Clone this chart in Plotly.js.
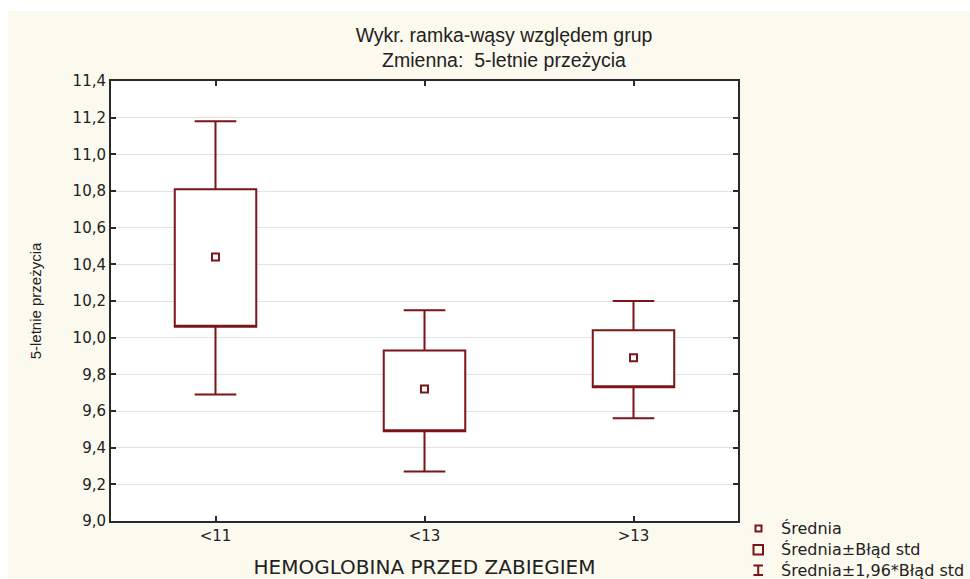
<!DOCTYPE html>
<html>
<head>
<meta charset="utf-8">
<script src="https://cdn.plot.ly/plotly-3.0.1.min.js"></script>
<style>
  html, body { margin: 0; padding: 0; background: #ffffff; }
  #chart { position: absolute; left: 8px; top: 11px; width: 962px; height: 568px; }
</style>
</head>
<body>
<div id="chart"></div>
<script>
// ---- data ----
const categories = ['<11', '<13', '>13'];
const means      = [10.44, 9.72, 9.89];
const seLow      = [10.06, 9.49, 9.73];   // Średnia - Błąd std
const seHigh     = [10.81, 9.93, 10.04];  // Średnia + Błąd std
const ciLow      = [9.69, 9.27, 9.56];    // Średnia - 1,96*Błąd std
const ciHigh     = [11.18, 10.15, 10.20]; // Średnia + 1,96*Błąd std
const yTickVals  = [9.0, 9.2, 9.4, 9.6, 9.8, 10.0, 10.2, 10.4, 10.6, 10.8, 11.0, 11.2, 11.4];
const yTickText  = ['9,0', '9,2', '9,4', '9,6', '9,8', '10,0', '10,2', '10,4', '10,6', '10,8', '11,0', '11,2', '11,4'];
const legendLabels = ['Średnia', 'Średnia±Błąd std', 'Średnia±1,96*Błąd std'];

// ---- style ----
const RED = '#7b1518';
const AX = '#2a2a2a';
const BG = '#fcf9ee';
// page-pixel -> paper coordinate helpers (plot area: x 111..738, y 81..521)
const PX0 = 111, PX1 = 738, PY0 = 81, PY1 = 521;
const px = v => (v - PX0) / (PX1 - PX0);
const py = v => (PY1 - v) / (PY1 - PY0);

const boxTrace = {
  type: 'box',
  x: categories,
  q1: seLow,
  median: seLow,
  q3: seHigh,
  lowerfence: ciLow,
  upperfence: ciHigh,
  fillcolor: '#ffffff',
  line: { color: RED, width: 2 },
  whiskerwidth: 0.51,
  width: 0.39,
  boxpoints: false,
  hoverinfo: 'skip',
  showlegend: false
};

const meanTrace = {
  type: 'scatter',
  mode: 'markers',
  x: categories,
  y: means,
  marker: { symbol: 'square-open', size: 7, color: RED, line: { width: 2, color: RED } },
  hoverinfo: 'skip',
  showlegend: false
};

// legend (drawn as shapes + annotations next to the plot)
const legendRows = [528.5, 549.5, 570];
const shapes = [
  { type: 'rect', xref: 'paper', yref: 'paper', x0: px(755.5), x1: px(761.5), y0: py(531.5), y1: py(525.5),
    line: { color: RED, width: 2 }, fillcolor: '#ffffff' },
  { type: 'rect', xref: 'paper', yref: 'paper', x0: px(753.5), x1: px(763), y0: py(554.5), y1: py(545),
    line: { color: RED, width: 2 }, fillcolor: BG },
  { type: 'line', xref: 'paper', yref: 'paper', x0: px(758.2), x1: px(758.2), y0: py(575), y1: py(565.5),
    line: { color: RED, width: 2 } },
  { type: 'line', xref: 'paper', yref: 'paper', x0: px(753.5), x1: px(763), y0: py(565.5), y1: py(565.5),
    line: { color: RED, width: 2 } },
  { type: 'line', xref: 'paper', yref: 'paper', x0: px(753.5), x1: px(763), y0: py(575), y1: py(575),
    line: { color: RED, width: 2 } }
];
const annotations = legendLabels.map((t, i) => ({
  xref: 'paper', yref: 'paper', x: px(779), y: py(legendRows[i]),
  xanchor: 'left', yanchor: 'middle', showarrow: false, text: t,
  font: { family: 'DejaVu Sans', size: 16, color: '#222222' }
}));

const layout = {
  width: 962, height: 568,
  margin: { l: PX0 - 8, r: 962 - (PX1 - 8), t: PY0 - 11, b: 568 - (PY1 - 11) },
  paper_bgcolor: BG,
  plot_bgcolor: '#ffffff',
  showlegend: false,
  title: {
    text: 'Wykr. ramka-wąsy względem grup<br>Zmienna:\u00a0 5-letnie przeżycia',
    font: { family: 'Liberation Sans, Arial', size: 19.5, color: '#222222' },
    xref: 'container', x: (504 - 8) / 962, xanchor: 'center',
    yref: 'container', y: 1 - (42 - 11) / 568, yanchor: 'middle'
  },
  xaxis: {
    type: 'category',
    range: [-0.5, 2.5],
    showline: true, linecolor: AX, linewidth: 2, mirror: 'ticks',
    ticks: 'inside', ticklen: 5, tickwidth: 2, tickcolor: AX,
    showgrid: false, zeroline: false,
    tickfont: { family: 'DejaVu Sans', size: 15, color: '#222222' },
    title: { text: 'HEMOGLOBINA PRZED ZABIEGIEM', standoff: 22,
             font: { family: 'DejaVu Sans', size: 20, color: '#222222' } }
  },
  yaxis: {
    range: [9.0, 11.4],
    tickvals: yTickVals, ticktext: yTickText,
    showline: true, linecolor: AX, linewidth: 2, mirror: 'ticks',
    ticks: 'inside', ticklen: 5, tickwidth: 2, tickcolor: AX,
    showgrid: true, gridcolor: '#e2e2e2', gridwidth: 1, zeroline: false,
    tickfont: { family: 'DejaVu Sans', size: 15, color: '#222222' },
    title: { text: '5-letnie przeżycia', standoff: 27,
             font: { family: 'Liberation Sans, Arial', size: 15, color: '#222222' } }
  },
  shapes: shapes,
  annotations: annotations
};

Plotly.newPlot('chart', [boxTrace, meanTrace], layout, { displayModeBar: false, staticPlot: true });
</script>
</body>
</html>
